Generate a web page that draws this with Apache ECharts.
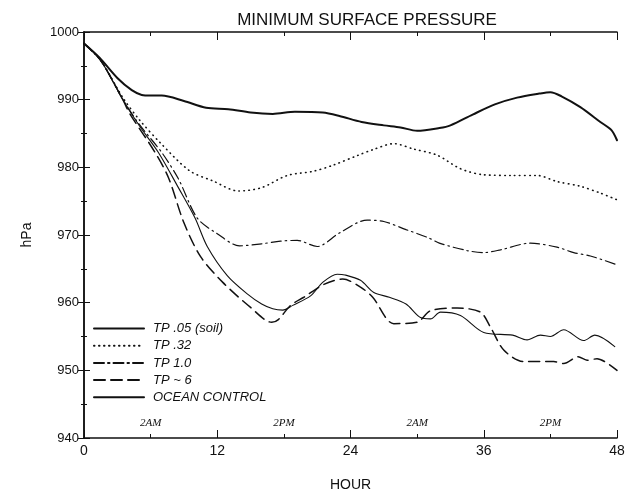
<!DOCTYPE html>
<html>
<head>
<meta charset="utf-8">
<script src="https://cdn.jsdelivr.net/npm/echarts@6/dist/echarts.min.js"></script>
<style>html,body{margin:0;padding:0;background:#fff}#c{width:630px;height:497px}</style>
</head>
<body>
<div id="c"></div>
<script>
// [hour, hPa]
const soil = [[0,998.3],[1.4,996.2],[3,993.2],[4.3,991.4],[5.2,990.7],[6,990.6],[7,990.6],[9,989.8],[11,988.8],[13,988.6],[15,988.1],[17,987.9],[19,988.2],[21.5,988.1],[23,987.6],[25,986.7],[27,986.2],[28.5,985.9],[30,985.4],[32,985.8],[33,986.2],[35,987.8],[37,989.3],[39,990.3],[41,990.9],[42,991.1],[43,990.5],[44.7,988.9],[46.5,986.7],[47.5,985.5],[48,984]];
const tp32 = [[0,998.3],[1.5,995.8],[3.5,990.3],[5,987],[7,983.4],[9.5,979.5],[11.6,978],[13.9,976.5],[16,977],[18.3,978.8],[20.6,979.4],[22.4,980.3],[24.7,981.8],[26,982.6],[27.9,983.5],[29.7,982.7],[31.8,981.8],[33.9,979.8],[36,978.9],[38.5,978.8],[40.8,978.8],[42.6,977.9],[44.7,977.2],[46.5,976.2],[48,975.2]];
const tp10 = [[0,998.3],[1.5,995.8],[3.5,990],[5,986.3],[7,982.2],[8.5,978.3],[10.2,972.5],[12,970.2],[14,968.4],[16,968.7],[17.7,969.1],[19.2,969.2],[21,968.3],[23,970.3],[25.5,972.2],[27,972],[29,970.8],[31,969.6],[32,968.8],[34.5,967.7],[36,967.4],[37.5,967.8],[40.2,968.8],[42.6,968.2],[44.1,967.4],[45.6,966.9],[48,965.6]];
const tp6 = [[0,998.3],[1.5,995.8],[3.5,990],[4.1,988],[6.4,982.2],[7.6,978.5],[9,971.8],[10.5,966.8],[12.5,963],[15,959.3],[16.9,957.1],[17.5,957.5],[18.6,959.6],[19.8,960.8],[21.6,962.7],[23.3,963.5],[24.9,962.3],[26,960.8],[27.9,956.9],[30,957.1],[31.2,958.8],[33.6,959.2],[35.7,958.6],[36.6,956.4],[37.8,953],[39.6,951.3],[42.3,951.3],[43.2,951],[44.5,952],[45.3,951.5],[46.2,951.7],[48,950]];
const ocean = [[0,998.3],[1.5,995.8],[3.5,990],[5,986.1],[6.7,982.2],[8.5,977],[10,972.5],[11.1,968.3],[12.9,964],[14.7,961.3],[16,959.8],[17,959.1],[17.9,958.9],[18.8,959.6],[20.4,961],[21.5,963],[22.8,964.2],[23.5,964.1],[24.9,963.3],[26.1,961.5],[27.5,960.8],[29,959.8],[30.3,957.8],[31.2,957.6],[32.1,958.6],[33.9,958.1],[36,955.6],[38.6,955.2],[39.9,954.5],[41.1,955.2],[42,955],[43.2,956],[45,954.4],[46,955.2],[47.8,953.5]];
const seriesNames = ['TP .05 (soil)','TP .32','TP 1.0','TP ~ 6','OCEAN CONTROL'];
const dayLabels = {6:'2AM',18:'2PM',30:'2AM',42:'2PM'};

const chart = echarts.init(document.getElementById('c'), null, {renderer:'canvas'});
const ink = '#111';
const font = 'Liberation Sans';
function ln(name, data, width, type){
  return {name, type:'line', data, xAxisIndex:0, yAxisIndex:0, symbol:'none', smooth:0.3,
    lineStyle:{color:ink, width, type, cap:'round'}, itemStyle:{color:ink}, emphasis:{disabled:true}};
}
chart.setOption({
  animation:false,
  backgroundColor:'#fff',
  title:{text:'MINIMUM SURFACE PRESSURE', left:362, textAlign:'center', top:7,
    textStyle:{fontFamily:font, fontSize:17, fontWeight:'normal', color:ink}},
  grid:{left:84, right:13, top:32, bottom:55},
  legend:{orient:'vertical', left:93, top:322, padding:0, itemWidth:50, itemHeight:14, itemGap:4.2,
    data:seriesNames,
    itemStyle:{opacity:0},
    textStyle:{fontFamily:font, fontSize:13, fontStyle:'italic', color:ink, padding:[0,0,0,4]}},
  xAxis:[
    {type:'value', min:0, max:48, interval:12, position:'bottom',
     axisLine:{lineStyle:{color:ink, width:1.5}},
     axisTick:{inside:true, length:8, lineStyle:{color:ink}},
     minorTick:{show:true, splitNumber:2, length:4, lineStyle:{color:ink}},
     splitLine:{show:false},
     axisLabel:{color:ink, fontFamily:font, fontSize:14, margin:6},
     name:'HOUR', nameLocation:'middle', nameGap:40,
     nameTextStyle:{color:ink, fontFamily:font, fontSize:14}},
    {type:'value', min:0, max:48, interval:6, position:'bottom',
     axisLine:{show:false}, axisTick:{show:false}, splitLine:{show:false},
     axisLabel:{inside:true, margin:9, color:ink, fontFamily:'Liberation Serif', fontStyle:'italic', fontSize:11,
       formatter:v=>dayLabels[v]||''}},
    {type:'value', min:0, max:48, interval:12, position:'top',
     axisLine:{lineStyle:{color:ink, width:1.5}},
     axisTick:{inside:true, length:8, lineStyle:{color:ink}},
     minorTick:{show:true, splitNumber:2, length:4, lineStyle:{color:ink}},
     splitLine:{show:false}, axisLabel:{show:false}}
  ],
  yAxis:[
    {type:'value', min:940, max:1000, interval:10, position:'left',
     axisLine:{show:true, lineStyle:{color:ink, width:1.5}},
     axisTick:{show:true, inside:true, length:6, lineStyle:{color:ink}},
     minorTick:{show:true, splitNumber:2, length:3, lineStyle:{color:ink}},
     splitLine:{show:false},
     axisLabel:{color:ink, fontFamily:font, fontSize:13, margin:5, formatter:v=>String(v)},
     name:'hPa', nameLocation:'middle', nameGap:50, nameRotate:90,
     nameTextStyle:{color:ink, fontFamily:font, fontSize:14}},
    {type:'value', min:940, max:1000, interval:10, position:'right',
     axisLine:{show:true, lineStyle:{color:ink, width:1.5}},
     axisTick:{show:true, inside:true, length:6, lineStyle:{color:ink}},
     minorTick:{show:true, splitNumber:2, length:3, lineStyle:{color:ink}},
     splitLine:{show:false}, axisLabel:{show:false}}
  ],
  series:[
    ln(seriesNames[0], soil, 2, 'solid'),
    ln(seriesNames[1], tp32, 1.6, [0.5,4.5]),
    ln(seriesNames[2], tp10, 1.2, [10,4,1.5,4]),
    ln(seriesNames[3], tp6, 1.5, [11,6]),
    ln(seriesNames[4], ocean, 1.1, 'solid')
  ]
});
</script>
</body>
</html>
